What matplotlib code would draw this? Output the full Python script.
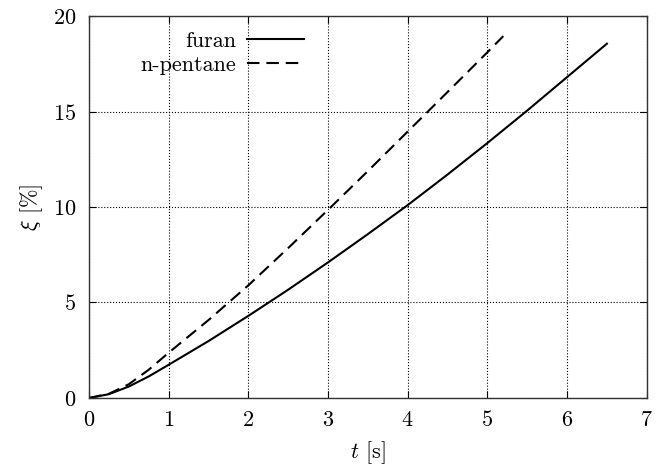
import numpy as np
import matplotlib
matplotlib.use("Agg")
import matplotlib.pyplot as plt

plt.rcParams['font.family'] = ['cmr10', 'DejaVu Serif']
plt.rcParams['mathtext.fontset'] = 'cm'
plt.rcParams['axes.formatter.use_mathtext'] = True
plt.rcParams['font.size'] = 16

# values
t_furan = [0, 0.25, 0.5, 0.75, 1, 1.5, 2, 2.5, 3, 3.5, 4, 4.5, 5, 5.5, 6, 6.5]
xi_furan = [0, 0.2, 0.6, 1.13, 1.74, 2.98, 4.3, 5.67, 7.1, 8.58, 10.1, 11.7,
            13.35, 15.05, 16.8, 18.55]

t_pentane = [0, 0.25, 0.5, 0.75, 1, 1.5, 2, 2.5, 3, 3.5, 4, 4.5, 5, 5.2]
xi_pentane = [0, 0.22, 0.72, 1.48, 2.37, 4.08, 5.9, 7.85, 9.85, 11.88, 13.95,
              16.02, 18.1, 18.95]

x_ticks = [0, 1, 2, 3, 4, 5, 6, 7]
y_ticks = [0, 5, 10, 15, 20]

fig = plt.figure(figsize=(6.64, 4.71), dpi=100)
ax = fig.add_axes([0.134, 0.155, 0.840, 0.811])

ax.plot(t_furan, xi_furan, '-', color='black', lw=1.5, label='furan')
ax.plot(t_pentane, xi_pentane, color='black', lw=1.5, dashes=(6, 3.3),
        label='n-pentane')

ax.set_xlim(0, 7)
ax.set_ylim(0, 20)
ax.set_xticks(x_ticks)
ax.set_yticks(y_ticks)
ax.grid(True, linestyle=':', color='black', lw=0.8)
ax.tick_params(direction='in', top=True, right=True, length=5, width=0.8,
               labelsize=16, pad=9)
for s in ax.spines.values():
    s.set_color('#333333')
    s.set_linewidth(1.0)

ax.set_xlabel(r'$t$ [s]', fontsize=16, labelpad=6)
ax.set_ylabel(r'$\xi$ [%]', fontsize=16, labelpad=6)

leg = ax.legend(loc='upper right', bbox_to_anchor=(0.41, 0.995), frameon=False,
                markerfirst=False, handlelength=2.6, handletextpad=0.45,
                labelspacing=0.22, borderaxespad=0.2, fontsize=16)

fig.savefig('out.png', dpi=100)
